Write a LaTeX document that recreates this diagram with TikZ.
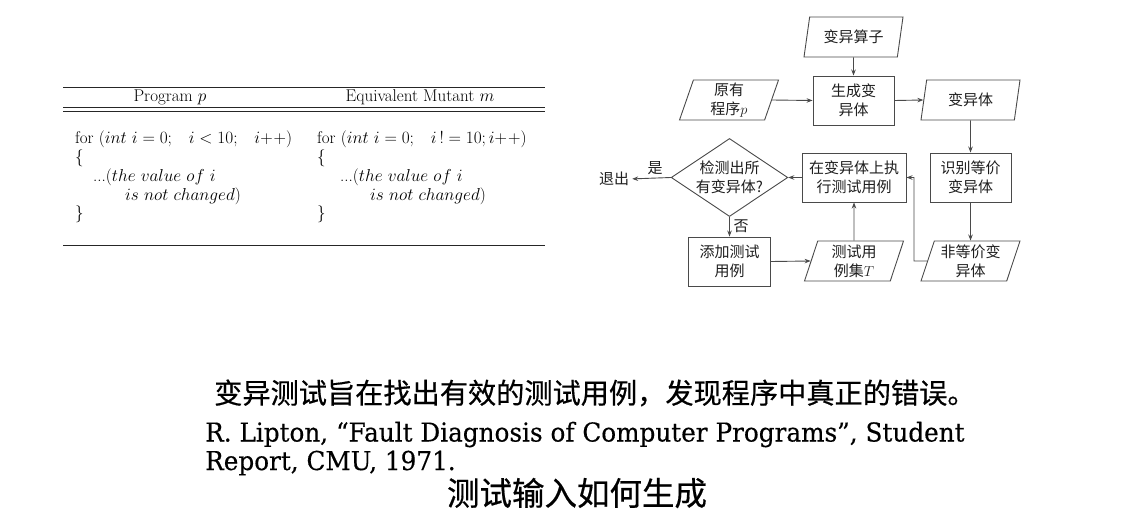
\documentclass[tikz,border=0pt]{standalone}
\usepackage{fontspec}
\usetikzlibrary{shapes.geometric,arrows.meta}
\newfontfamily\cjk{Noto Sans CJK SC}
\newfontfamily\cjkbold[FakeBold=0.5]{Noto Sans CJK SC}
\newfontfamily\slab[FakeStretch=0.95,FakeBold=0.4]{DejaVu Serif}
\definecolor{ink}{HTML}{1E1E1E}
\definecolor{edge}{HTML}{4A4A4A}
\newcommand{\gap}{\hspace{14pt}}
\newcommand{\incr}{{+}\mkern1mu{+}}

\begin{document}
\begin{tikzpicture}[x=1pt,y=-1pt,
  every node/.style={text=ink, inner sep=0pt},
  flow/.style={font=\cjk\fontsize{15}{19}\selectfont, align=center},
  procbox/.style={flow, draw=edge, line width=0.9pt, rectangle,
    minimum width=#1, minimum height=49pt},
  procbox/.default=81pt,
  iobox/.style={flow, draw=edge, line width=0.9pt, trapezium,
    trapezium left angle=68, trapezium right angle=112,
    trapezium stretches body, minimum width=99pt, minimum height=40pt},
  decision/.style={flow, draw=edge, line width=0.9pt, diamond, aspect=1.5,
    minimum width=115pt, minimum height=78pt},
  arr/.style={draw=edge, line width=0.9pt, -{Stealth[length=6pt,width=4.5pt]}},
  rule/.style={line width=0.9pt, draw=black!85},
  tab/.style={font=\fontsize{17}{19}\selectfont, text=black},
  code/.style={tab, anchor=base west},
]
\useasboundingbox (0,0) rectangle (1139,527);

% ---------- table: program and equivalent mutant ----------
\draw[rule] (63,87) -- (545,87);
\draw[rule] (63,107.3) -- (545,107.3);
\draw[rule] (63,111.5) -- (545,111.5);
\draw[rule] (63,245) -- (545,245);

\node[tab] (hp) at (170,97) {Program $p$};
\node[tab] (hm) at (420,97) {Equivalent Mutant $m$};

\node[code] (p1) at (75,143.5) {for ($int\ i=0;\gap i<10;\gap i\incr$)};
\node[code] (p2) at (75,162.5) {\{};
\node[code] (p3) at (93,181.5) {...($the\ value\ of\ i$};
\node[code] (p4) at (125,200.5) {$is\ not\ changed$)};
\node[code] (p5) at (75,218.5) {\}};

\node[code] (m1) at (317,143.5) {for ($int\ i=0;\gap i\,!=10; i\incr$)};
\node[code] (m2) at (317,162.5) {\{};
\node[code] (m3) at (340,181.5) {...($the\ value\ of\ i$};
\node[code] (m4) at (370,200.5) {$is\ not\ changed$)};
\node[code] (m5) at (317,218.5) {\}};

% ---------- mutation testing flow ----------
\node[iobox] (op) at (853.5,37) {变异算子};
\node[procbox] (gen) at (853.5,100.5) {生成变\\异体};
\node[iobox] (orig) at (729,100) {原有\\程序$p$};
\node[iobox] (mut) at (970.5,100) {变异体};
\node[procbox] (ident) at (970.5,177.5) {识别等价\\变异体};
\node[iobox] (neq) at (970.5,261) {非等价变\\异体};
\node[procbox=104pt] (exec) at (854,177.5) {在变异体上执\\行测试用例};
\node[decision] (chk) at (729.5,177.5) {检测出所\\有变异体?};
\node[procbox=82pt] (add) at (729.5,261.5) {添加测试\\用例};
\node[iobox] (tset) at (854,261) {测试用\\例集$T$};
\node[flow] (quit) at (614,179) {退出};
\node[flow] (yes) at (655,168) {是};
\node[flow] (no) at (741,226) {否};
\coordinate (bend) at (914,261);

\draw[arr] (op) -- (gen);
\draw[arr] (orig.east) -- (gen.west);
\draw[arr] (gen.east) -- (mut.west);
\draw[arr] (mut) -- (ident);
\draw[arr] (ident) -- (neq);
\draw[arr] (neq.west) -- (bend) |- (exec.east);
\draw[arr] (exec.west) -- (chk.east);
\draw[arr, shorten >=3pt] (chk.west) -- (quit.east);
\draw[arr] (chk.south) -- (add.north);
\draw[arr] (add.east) -- (tset.west);
\draw[arr] (tset) -- (exec);

% ---------- caption text ----------
\node[anchor=west, font=\cjkbold\fontsize{28.2}{30}\selectfont, text=black] (aim)
  at (214,393) {变异测试旨在找出有效的测试用例，发现程序中真正的错误。};
\node[anchor=base west, font=\slab\fontsize{26}{30}\selectfont, text=black] (ref1)
  at (205,441.5) {R. Lipton, “Fault Diagnosis of Computer Programs”, Student};
\node[anchor=base west, font=\slab\fontsize{26}{30}\selectfont, text=black] (ref2)
  at (205,470) {Report, CMU, 1971.};
\node[font=\cjkbold\fontsize{32.5}{36}\selectfont, text=black] (q)
  at (577,493) {测试输入如何生成};
\end{tikzpicture}
\end{document}
